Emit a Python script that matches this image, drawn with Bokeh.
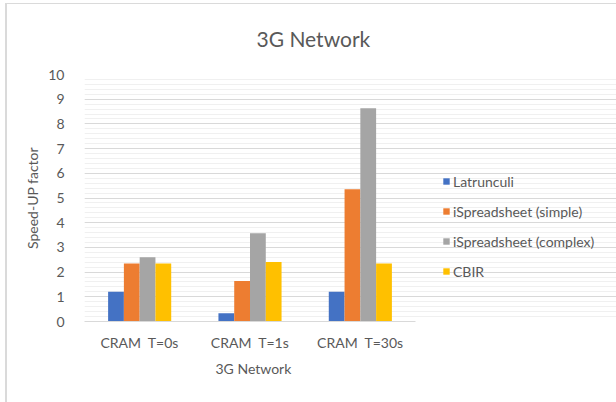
from bokeh.plotting import figure
from bokeh.models import ColumnDataSource, FixedTicker, Legend, LegendItem, Title
from bokeh.embed import file_html
from bokeh.resources import INLINE

# Speed-up factors per configuration on a 3G network
categories = ["CRAM\u00a0 T=0s", "CRAM\u00a0 T=1s", "CRAM\u00a0 T=30s"]
latrunculi = [1.2, 0.33, 1.2]
ispreadsheet_simple = [2.35, 1.64, 5.35]
ispreadsheet_complex = [2.6, 3.57, 8.63]
cbir = [2.35, 2.41, 2.35]

series_names = ["Latrunculi", "iSpreadsheet (simple)",
                "iSpreadsheet (complex)", "CBIR"]
series_values = [latrunculi, ispreadsheet_simple, ispreadsheet_complex, cbir]
colors = ["#4472C4", "#ED7D31", "#A5A5A5", "#FFC000"]
y_ticks = list(range(0, 11))

FONT = "Lato"
TXT = "#595959"

FRAME_LEFT = 84
PLOT_W = 331            # width of the bar area in pixels
FIG_W, FIG_H = 616, 402
n_cat = len(categories)
centers = [i + 0.5 for i in range(n_cat)]
# the frame runs to the right edge so the legend can sit inside it;
# grid and axis are bounded to the bar area
x_end = n_cat * (FIG_W - FRAME_LEFT) / PLOT_W

p = figure(
    width=FIG_W, height=FIG_H,
    x_range=(0, x_end), y_range=(0, 10),
    output_backend="svg",
    toolbar_location=None,
    min_border_left=FRAME_LEFT, min_border_right=0,
    min_border_top=72, min_border_bottom=81,
    title="3G Network",
)
p.outline_line_color = None
p.background_fill_color = "white"
# transparent surround so the page background draws the chart-area border
p.border_fill_alpha = 0
p.styles = {
    "background": (
        "linear-gradient(#DADADA, #DADADA) 5px 3px / 2px 399px no-repeat, "
        "linear-gradient(#DADADA, #DADADA) 5px 3px / 611px 1px no-repeat, "
        "white"
    )
}

# chart title
p.title.align = "left"
p.title.offset = 172
p.title.standoff = 47
p.title.text_font = FONT
p.title.text_font_size = "21px"
p.title.text_font_style = "normal"
p.title.text_color = TXT

# grouped bars: each bar 1/7 of a category, four bars centred on the category
bar_w = 0.143
offsets = [-1.5 * bar_w, -0.5 * bar_w, 0.5 * bar_w, 1.5 * bar_w]
renderers = []
for vals, off, col in zip(series_values, offsets, colors):
    src = ColumnDataSource(data=dict(x=[c + off for c in centers], top=vals))
    r = p.vbar(x="x", top="top", width=bar_w, source=src,
               fill_color=col, line_color=None)
    renderers.append(r)

# y axis
p.yaxis.ticker = FixedTicker(ticks=y_ticks,
                             minor_ticks=[i / 5 for i in range(0, 51)])
p.yaxis.axis_line_color = None
p.yaxis.major_tick_line_color = None
p.yaxis.minor_tick_line_color = None
p.yaxis.major_label_standoff = 14
p.yaxis.major_label_text_font = FONT
p.yaxis.major_label_text_font_size = "14px"
p.yaxis.major_label_text_color = TXT
p.yaxis.axis_label = "Speed-UP factor"
p.yaxis.axis_label_text_font = FONT
p.yaxis.axis_label_text_font_size = "14px"
p.yaxis.axis_label_text_font_style = "normal"
p.yaxis.axis_label_text_color = TXT
p.yaxis.axis_label_standoff = 4

# x axis with category labels
p.xaxis.ticker = FixedTicker(ticks=centers)
p.xaxis.major_label_overrides = {c: lab for c, lab in zip(centers, categories)}
p.xaxis.bounds = (0, n_cat)
p.xaxis.axis_line_color = "#D9D9D9"
p.xaxis.major_tick_line_color = None
p.xaxis.minor_tick_line_color = None
p.xaxis.major_label_standoff = 6
p.xaxis.major_label_text_font = FONT
p.xaxis.major_label_text_font_size = "14px"
p.xaxis.major_label_text_color = TXT

# x-axis title, centred under the bar area
p.add_layout(Title(text="3G Network", align="left", offset=131,
                   vertical_align="top", standoff=12,
                   text_font=FONT, text_font_size="14px",
                   text_font_style="normal", text_color=TXT), "below")

p.xgrid.grid_line_color = None
p.ygrid.bounds = (0, n_cat)
p.ygrid.grid_line_color = "#D9D9D9"
p.ygrid.grid_line_width = 1
p.ygrid.minor_grid_line_color = "#F0F0F0"
p.ygrid.minor_grid_line_width = 1

legend = Legend(
    items=[LegendItem(label=n, renderers=[r])
           for n, r in zip(series_names, renderers)],
    location=(358, 40),
    padding=0, margin=0, spacing=10,
    glyph_width=8, glyph_height=8, label_height=20,
    label_standoff=3,
    label_text_font=FONT, label_text_font_size="14px",
    label_text_color=TXT,
    border_line_color=None, background_fill_alpha=0,
)
p.add_layout(legend)

open("out.html", "w").write(file_html(p, INLINE))
